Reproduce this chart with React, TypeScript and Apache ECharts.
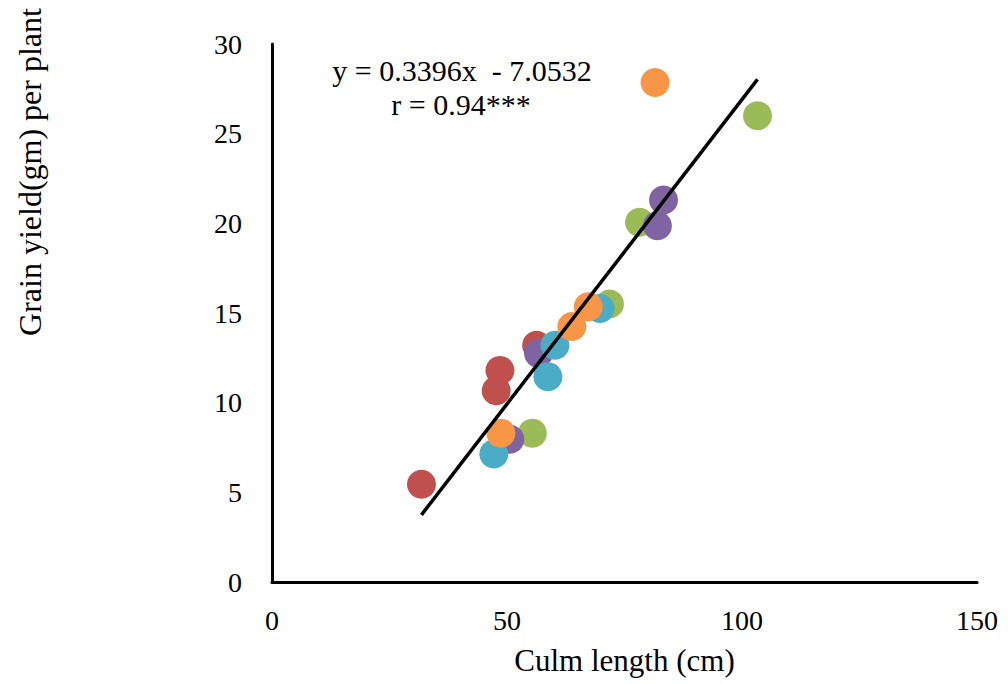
import React, { useEffect, useRef } from "react";
import * as echarts from "echarts";

const xTicks = [0, 50, 100, 150];
const yTicks = [0, 5, 10, 15, 20, 25, 30];

const redPoints: [number, number][] = [
  [31.8, 5.45],
  [48.5, 11.8],
  [47.7, 10.67],
  [56.3, 13.2],
];
const greenPoints: [number, number][] = [
  [103.3, 26.0],
  [78.2, 20.06],
  [71.8, 15.5],
  [55.4, 8.3],
];
const purplePoints: [number, number][] = [
  [83.3, 21.3],
  [82.0, 19.87],
  [56.7, 12.75],
  [50.6, 7.96],
];
const bluePoints: [number, number][] = [
  [60.2, 13.2],
  [58.7, 11.45],
  [69.8, 15.25],
  [47.2, 7.14],
];
const orangePoints: [number, number][] = [
  [81.5, 27.85],
  [67.3, 15.35],
  [63.8, 14.25],
  [48.7, 8.3],
];

const slope = 0.3396;
const intercept = -7.0532;
const trendX = [31.8, 103.3];

const equationText = "y = 0.3396x  - 7.0532";
const rText = "r = 0.94***";
const xTitle = "Culm length (cm)";
const yTitle = "Grain yield(gm) per plant";

const FONT = "'Liberation Serif', 'Times New Roman', serif";

export default function App() {
  const ref = useRef<HTMLDivElement>(null);
  useEffect(() => {
    if (!ref.current) return;
    const chart = echarts.init(ref.current, undefined, { renderer: "svg" });
    const scatter = (name: string, data: [number, number][], color: string) => ({
      name,
      type: "scatter",
      data,
      symbol: "circle",
      symbolSize: 29,
      itemStyle: { color, opacity: 1 },
      z: 2,
    });
    chart.setOption({
      animation: false,
      backgroundColor: "#ffffff",
      grid: { left: 272, right: 31, top: 44, bottom: 102 },
      xAxis: {
        type: "value",
        min: xTicks[0],
        max: xTicks[xTicks.length - 1],
        interval: 50,
        name: xTitle,
        nameLocation: "middle",
        nameGap: 63,
        nameTextStyle: { fontFamily: FONT, fontSize: 31, color: "#000" },
        axisLine: { show: true, lineStyle: { color: "#000", width: 3 } },
        axisTick: { show: false },
        splitLine: { show: false },
        axisLabel: { fontFamily: FONT, fontSize: 28, color: "#000", margin: 24 },
      },
      yAxis: {
        type: "value",
        min: yTicks[0],
        max: yTicks[yTicks.length - 1],
        interval: 5,
        axisLine: { show: true, lineStyle: { color: "#000", width: 3 } },
        axisTick: { show: false },
        splitLine: { show: false },
        axisLabel: { fontFamily: FONT, fontSize: 28, color: "#000", margin: 30 },
      },
      graphic: [
        {
          type: "text",
          x: 30,
          y: 172,
          rotation: Math.PI / 2,
          style: {
            text: yTitle,
            fontFamily: FONT,
            fontSize: 32,
            fill: "#000",
            align: "center",
            verticalAlign: "middle",
          },
        },
        {
          type: "text",
          x: 462,
          y: 70,
          style: {
            text: equationText,
            fontFamily: FONT,
            fontSize: 30,
            fill: "#000",
            align: "center",
            verticalAlign: "middle",
          },
        },
        {
          type: "text",
          x: 461,
          y: 104,
          style: {
            text: rText,
            fontFamily: FONT,
            fontSize: 30,
            fill: "#000",
            align: "center",
            verticalAlign: "middle",
          },
        },
      ],
      series: [
        scatter("Red", redPoints, "#C0504D"),
        scatter("Green", greenPoints, "#9BBB59"),
        scatter("Purple", purplePoints, "#8064A2"),
        scatter("Blue", bluePoints, "#4BACC6"),
        scatter("Orange", orangePoints, "#F79646"),
        {
          name: "Trend",
          type: "line",
          data: trendX.map((x) => [x, slope * x + intercept]),
          symbol: "none",
          lineStyle: { color: "#000", width: 3.5 },
          z: 3,
        },
      ],
    });
    return () => chart.dispose();
  }, []);
  return (
    <div
      ref={ref}
      style={{ position: "fixed", left: 0, top: 0, width: 1008, height: 684, background: "#fff" }}
    />
  );
}
